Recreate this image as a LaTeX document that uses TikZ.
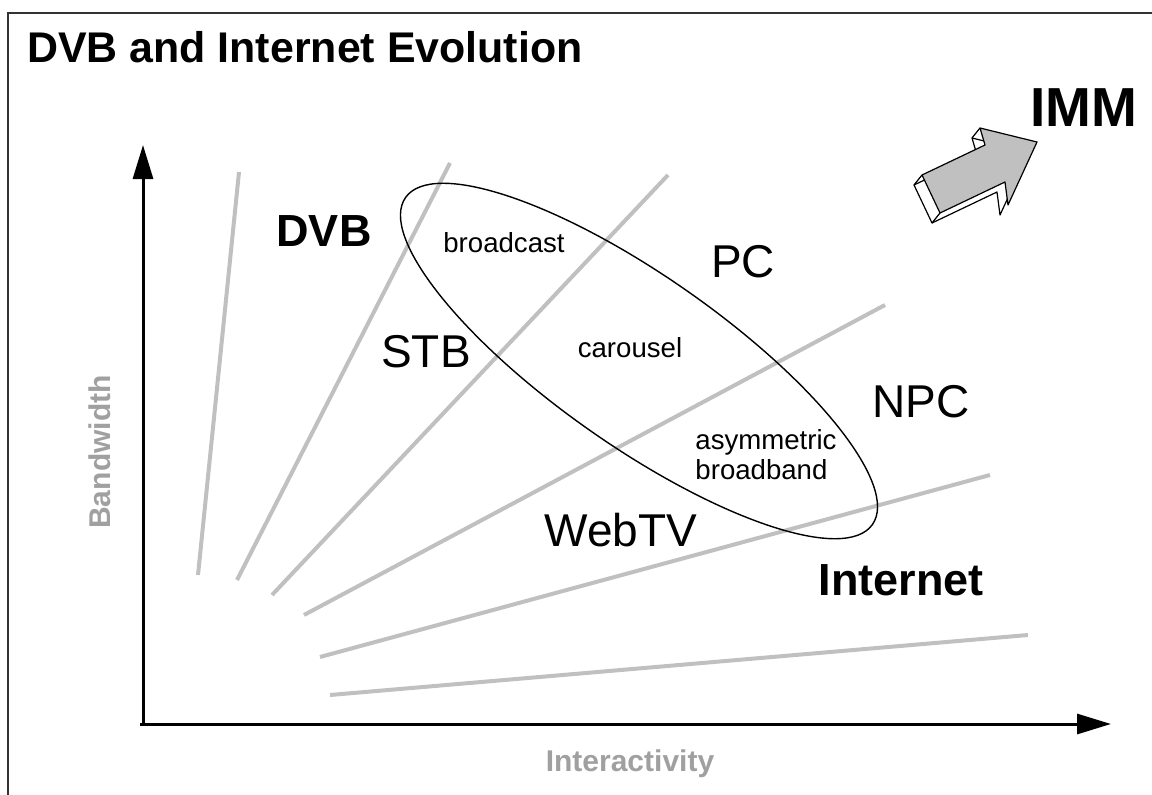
\documentclass[tikz,border=0pt]{standalone}
\usepackage{fontspec}
\setmainfont{Liberation Sans}
\usetikzlibrary{arrows.meta}
\definecolor{fan}{HTML}{C0C0C0}
\definecolor{axislabel}{HTML}{A0A0A0}
\definecolor{framecol}{HTML}{333333}
\definecolor{arrowfill}{HTML}{C0C0C0}
\begin{document}
\begin{tikzpicture}[x=1pt,y=-1pt,
  fanline/.style={draw=fan,line width=4pt},
  axisline/.style={line width=3pt,-{Triangle[length=34pt,width=20pt]}},
  framestyle/.style={draw=framecol,line width=2.2pt},
  zone/.style={draw=black,line width=1.4pt},
  label/.style={inner sep=0pt,font=\fontsize{46}{55}\selectfont},
  boldlabel/.style={inner sep=0pt,font=\fontsize{45}{54}\selectfont\bfseries},
  small/.style={inner sep=0pt,font=\fontsize{27.6}{33}\selectfont},
  axistext/.style={inner sep=0pt,text=axislabel,font=\fontsize{30}{36}\selectfont\bfseries},
  blockfront/.style={fill=arrowfill,draw=black,line width=1.2pt,line join=round},
  blockback/.style={fill=white,draw=black,line width=1.2pt,line join=round}
]
\useasboundingbox (0,0) rectangle (1152,795);

% frame (top and left edges)
\draw[framestyle] (8,795) -- (8,13) -- (1152,13);

% title
\node[anchor=base west,inner sep=0pt,font=\fontsize{42.9}{52}\selectfont\bfseries] (title) at (27,62) {DVB and Internet Evolution};

% fan of grey lines
\draw[fanline] (198,575) -- (239,172);
\draw[fanline] (237,580) -- (450,163);
\draw[fanline] (272,595) -- (668,175);
\draw[fanline] (304,615) -- (885,305);
\draw[fanline] (320,657) -- (990,475);
\draw[fanline] (330,695) -- (1028,635);

% axes
\coordinate (origin) at (143,725);
\coordinate (xorigin) at (140,724);
\coordinate (ytip) at (143,145);
\coordinate (xtip) at (1111,724);
\draw[axisline] (origin) -- (ytip);
\draw[axisline] (xorigin) -- (xtip);

% axis labels
\node[axistext,rotate=90] (bw) at (100,452) {Bandwidth};
\node[axistext] (ia) at (630,764) {Interactivity};

% service zone
\draw[zone,rotate around={-35:(639,361)}] (639,361) ellipse [x radius=285, y radius=85];

% labels
\node[boldlabel] (dvb) at (324,231) {DVB};
\node[small] (broadcast) at (504,243) {broadcast};
\node[label] (pc) at (743,262) {PC};
\node[label] (stb) at (426,352) {STB};
\node[small] (carousel) at (630,348) {carousel};
\node[label] (npc) at (921,402) {NPC};
\node[small,align=left] (asym) at (766,455) {asymmetric\\[-3pt]broadband};
\node[label] (webtv) at (621,530) {WebTV};
\node[boldlabel] (internet) at (901,580) {Internet};
\node[inner sep=0pt,font=\fontsize{55}{66}\selectfont\bfseries] (imm) at (1084,108) {IMM};

% 3D block arrow towards IMM
\begin{scope}[shift={(-8,10)}]
  \draw[blockback] (922,175) -- (985,145) -- (980,128) -- (1037,142) -- (1008,205) -- (1005,182) -- (940,213) -- cycle;
\end{scope}
\draw[black,line width=1.2pt] (922,175) -- (914,185);
\draw[black,line width=1.2pt] (940,213) -- (932,223);
\draw[black,line width=1.2pt] (980,128) -- (972,138);
\draw[blockfront] (922,175) -- (985,145) -- (980,128) -- (1037,142) -- (1008,205) -- (1005,182) -- (940,213) -- cycle;
\end{tikzpicture}
\end{document}
